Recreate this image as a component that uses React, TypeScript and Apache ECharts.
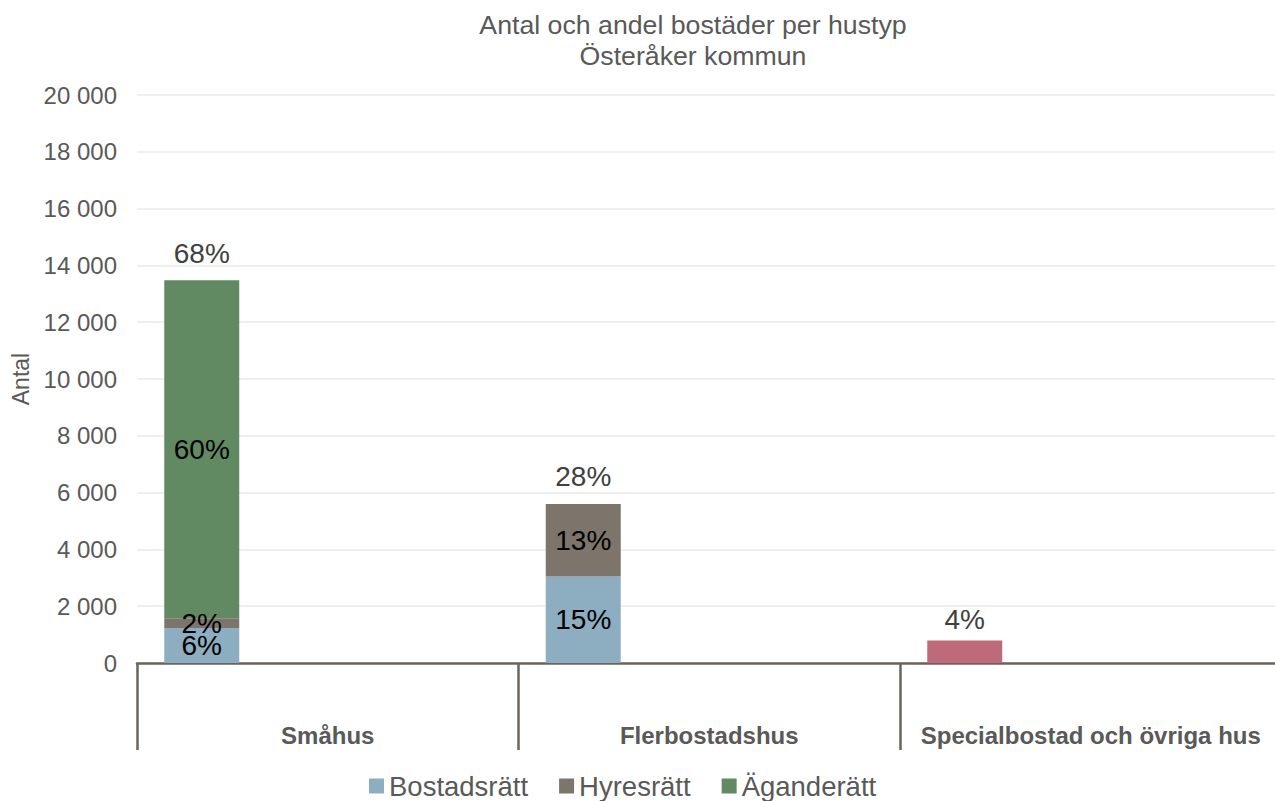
import React, { useEffect, useRef } from "react";
import * as echarts from "echarts";

const categories = ["Småhus", "Flerbostadshus", "Specialbostad och övriga hus"];
const bostadsratt: (number | null)[] = [1230, 3050, null];
const hyresratt: (number | null)[] = [350, 2550, null];
const aganderatt: (number | null)[] = [11900, null, null];
const ovrigt: (number | null)[] = [null, null, 790];
const legendNames = ["Bostadsrätt", "Hyresrätt", "Äganderätt"];
const yTicks = { min: 0, max: 20000, interval: 2000 };

const FONT = "'Liberation Sans', Arial, sans-serif";
const GREY = "#595959";

export default function App() {
  const ref = useRef<HTMLDivElement>(null);
  useEffect(() => {
    if (!ref.current) return;
    const chart = echarts.init(ref.current, null, { renderer: "svg" });
    const all = [bostadsratt, hyresratt, aganderatt, ovrigt];
    const grand = all.reduce((s, arr) => s + arr.reduce((a, v) => a + (v || 0), 0), 0);
    const catTotals = categories.map((_, i) => all.reduce((s, arr) => s + (arr[i] || 0), 0));
    const pct = (v: number) => Math.round((v / grand) * 100) + "%";
    const insideLabel = {
      show: true,
      position: "inside",
      fontSize: 28,
      color: "#000000",
      fontFamily: FONT,
      formatter: (p: any) => pct(p.value),
    };
    const fmt = (v: number) => String(v).replace(/\B(?=(\d{3})+(?!\d))/g, " ");
    const option: any = {
      animation: false,
      textStyle: { fontFamily: FONT },
      title: {
        text: "Antal och andel bostäder per hustyp\nÖsteråker kommun",
        left: 688,
        top: 4,
        textAlign: "center",
        textStyle: { fontSize: 26.7, fontWeight: "normal", color: GREY, lineHeight: 31, fontFamily: FONT },
      },
      legend: {
        data: legendNames,
        left: 369,
        top: 772,
        icon: "rect",
        itemWidth: 15,
        itemHeight: 15,
        itemGap: 31,
        padding: 0,
        textStyle: { fontSize: 27.5, color: GREY, fontFamily: FONT },
      },
      grid: { left: 137, right: 0.5, top: 95, bottom: 138 },
      xAxis: {
        type: "category",
        data: categories,
        boundaryGap: true,
        axisLine: { show: true, lineStyle: { color: "#6B635C", width: 2.5 } },
        axisTick: { show: true, interval: 0, length: 87, lineStyle: { color: "#6B635C", width: 2.5 } },
        axisLabel: { interval: 0, fontSize: 24, fontWeight: "bold", color: GREY, margin: 60, fontFamily: FONT },
      },
      yAxis: {
        type: "value",
        min: yTicks.min,
        max: yTicks.max,
        interval: yTicks.interval,
        name: "Antal",
        nameLocation: "middle",
        nameGap: 103,
        nameRotate: 90,
        nameTextStyle: { fontSize: 23, color: GREY, fontFamily: FONT },
        axisLine: { show: false },
        axisTick: { show: false },
        splitLine: { lineStyle: { color: "#EAEAEA", width: 1.5 } },
        axisLabel: { fontSize: 24, color: GREY, margin: 20, formatter: fmt, fontFamily: FONT },
      },
      series: [
        {
          name: "Bostadsrätt",
          type: "bar",
          stack: "a",
          barWidth: 75,
          barGap: "0%",
          data: bostadsratt,
          itemStyle: { color: "#8DADC0" },
          label: insideLabel,
        },
        {
          name: "Hyresrätt",
          type: "bar",
          stack: "a",
          barWidth: 75,
          barGap: "0%",
          data: hyresratt,
          itemStyle: { color: "#7D756B" },
          label: insideLabel,
        },
        {
          name: "Äganderätt",
          type: "bar",
          stack: "a",
          barWidth: 75,
          barGap: "0%",
          data: aganderatt,
          itemStyle: { color: "#618A62" },
          label: insideLabel,
        },
        {
          name: "Specialbostad och övriga hus",
          type: "bar",
          stack: "a",
          barWidth: 75,
          barGap: "0%",
          data: ovrigt,
          itemStyle: { color: "#BF6A7A" },
          label: {
            show: true,
            position: "top",
            distance: 7,
            fontSize: 28,
            color: "#404040",
            fontFamily: FONT,
            formatter: (p: any) => pct(p.value),
          },
        },
        {
          name: "Totalt",
          type: "bar",
          stack: "a",
          barWidth: 75,
          barGap: "0%",
          data: catTotals.map((t, i) => (aganderatt[i] != null || hyresratt[i] != null ? 0 : null)),
          itemStyle: { color: "transparent" },
          label: {
            show: true,
            position: "top",
            distance: 13,
            fontSize: 28,
            color: "#404040",
            fontFamily: FONT,
            formatter: (p: any) => pct(catTotals[p.dataIndex]),
          },
        },
        {
          name: "spacer",
          type: "bar",
          stack: "b",
          barWidth: 252,
          barGap: "0%",
          data: categories.map(() => null),
          itemStyle: { color: "transparent" },
          silent: true,
        },
      ],
    };
    chart.setOption(option);
    return () => chart.dispose();
  }, []);
  return (
    <div
      ref={ref}
      style={{ position: "fixed", left: 0, top: 0, width: 1282, height: 801, background: "#ffffff" }}
    />
  );
}
